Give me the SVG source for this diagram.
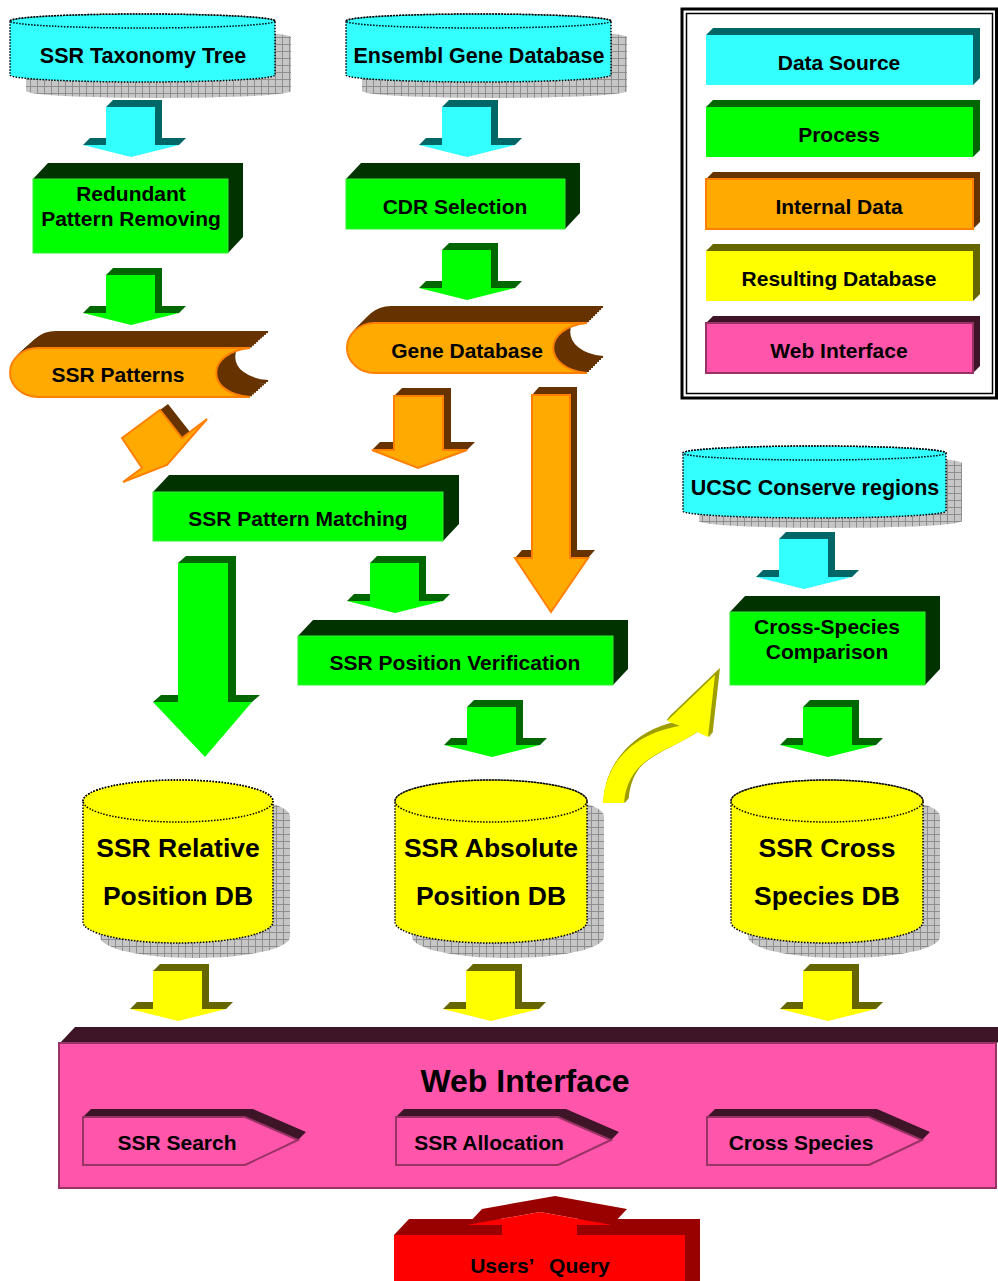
<svg xmlns="http://www.w3.org/2000/svg" xmlns:xlink="http://www.w3.org/1999/xlink" width="998" height="1281" viewBox="0 0 998 1281">
<style>
text{font-family:"Liberation Sans",Arial,sans-serif;font-weight:bold;fill:#000;text-anchor:middle}
.t19{font-size:21px}
.t20{font-size:21.5px}
.t26{font-size:26.5px}
.t29{font-size:32px}
.dot{stroke:#000;stroke-width:1.5;stroke-dasharray:1.5 1.5}
.shadow{fill:url(#hatch)}
.cy{fill:#33FFFF}
.cyd{fill:#006666}
.gr{fill:#00FF00;stroke:#33EE33;stroke-width:1}
.grd{fill:#003300}
.grl{fill:#006600}
.or{fill:#FFAA00;stroke:#FF8000;stroke-width:2}
.ord{fill:#663300}
.ords{fill:#663300;stroke:#663300;stroke-width:2}
.ye{fill:#FFFF00}
.yed{fill:#666600}
.pk{fill:#FF55AA;stroke:#993366;stroke-width:2}
.pkd{fill:#3D1527}
.rd{fill:#FF0000}
.rdd{fill:#990000}
.acy{fill:#33FFFF;color:#006666}
.agr{fill:#00FF00;color:#006600}
.aye{fill:#FFFF00;color:#666600}
</style>
<defs>
<pattern id="hatch" width="7" height="7" patternUnits="userSpaceOnUse">
<rect width="7" height="7" fill="#C6C6C6"/>
<path d="M0,0.5H7M0.5,0V7" stroke="#8E8E8E" stroke-width="1"/>
</pattern>
<g id="arrA">
<polygon fill="currentColor" points="106,107 113,100 162,100 162,138 186,138 179,145 155,145 155,107"/>
<polygon fill="currentColor" points="83,145 90,138 113,138 106,145"/>
<path d="M106,107 H155 V145 H179 L131,157 L83,145 H106 Z"/>
</g>
<path id="scroll1" d="M38,348 H250 C205,352 205,394 250,397 H38 A28,24.5 0 0 1 38,348 Z"/>
<path id="scroll2" d="M375,323 H587 C542,327 542,369 587,373 H375 A28,25 0 0 1 375,323 Z"/>
<path id="curve" d="M603,803 C605,758 640,732 680,726 L667,721 L715,675 L708,737 L697,732 C670,752 628,755 624,803 Z"/>
</defs>

<rect width="998" height="1281" fill="#FFFFFF"/>

<!-- Data sources -->
<g id="ssr-taxonomy-tree">
<path class="shadow" transform="translate(16,16)" d="M10,21 A132.5,7 0 0 1 275,21 V75 A132.5,7 0 0 1 10,75 Z"/>
<path class="cy dot" d="M10,21 A132.5,7 0 0 1 275,21 V75 A132.5,7 0 0 1 10,75 Z"/>
<ellipse cx="142.5" cy="21" rx="132.5" ry="7" fill="none" class="dot"/>
<text class="t20" x="143" y="63">SSR Taxonomy Tree</text>
</g>

<g id="ensembl-gene-database">
<path class="shadow" transform="translate(16,16)" d="M346,21 A132.5,7 0 0 1 611,21 V75 A132.5,7 0 0 1 346,75 Z"/>
<path class="cy dot" d="M346,21 A132.5,7 0 0 1 611,21 V75 A132.5,7 0 0 1 346,75 Z"/>
<ellipse cx="478.5" cy="21" rx="132.5" ry="7" fill="none" class="dot"/>
<text class="t20" x="479" y="63">Ensembl Gene Database</text>
</g>

<g id="ucsc-conserve-regions">
<path class="shadow" transform="translate(16,10)" d="M683,453 A131.5,7 0 0 1 946,453 V511 A131.5,7 0 0 1 683,511 Z"/>
<path class="cy dot" d="M683,453 A131.5,7 0 0 1 946,453 V511 A131.5,7 0 0 1 683,511 Z"/>
<ellipse cx="814.5" cy="453" rx="131.5" ry="7" fill="none" class="dot"/>
<text class="t20" x="815" y="495">UCSC Conserve regions</text>
</g>

<!-- Processes -->
<g id="redundant-pattern-removing">
<polygon class="grd" points="33,179 48,163 243,163 243,237 228,253 228,179"/>
<rect class="gr" x="33" y="179" width="195" height="74"/>
<text class="t19" x="131" y="201">Redundant</text>
<text class="t19" x="131" y="226">Pattern Removing</text>
</g>

<g id="cdr-selection">
<polygon class="grd" points="346,179 361,163 580,163 580,213 565,229 565,179"/>
<rect class="gr" x="346" y="179" width="219" height="50"/>
<text class="t19" x="455" y="214">CDR Selection</text>
</g>

<g id="ssr-pattern-matching">
<polygon class="grd" points="153,492 169,475 459,475 459,524 443,541 443,492"/>
<rect class="gr" x="153" y="492" width="290" height="49"/>
<text class="t19" x="298" y="526">SSR Pattern Matching</text>
</g>

<g id="ssr-position-verification">
<polygon class="grd" points="298,636 313,620 628,620 628,669 613,685 613,636"/>
<rect class="gr" x="298" y="636" width="315" height="49"/>
<text class="t19" x="455" y="670">SSR Position Verification</text>
</g>

<g id="cross-species-comparison">
<polygon class="grd" points="730,612 745,596 940,596 940,669 925,685 925,612"/>
<rect class="gr" x="730" y="612" width="195" height="73"/>
<text class="t19" x="827" y="634">Cross-Species</text>
<text class="t19" x="827" y="659">Comparison</text>
</g>

<!-- Internal data -->
<g id="ssr-patterns">
<g class="ords">
<use xlink:href="#scroll1" transform="translate(2,-1.8)"/>
<use xlink:href="#scroll1" transform="translate(4,-3.6)"/>
<use xlink:href="#scroll1" transform="translate(6,-5.3)"/>
<use xlink:href="#scroll1" transform="translate(8,-7.1)"/>
<use xlink:href="#scroll1" transform="translate(10,-8.9)"/>
<use xlink:href="#scroll1" transform="translate(12,-10.7)"/>
<use xlink:href="#scroll1" transform="translate(14,-12.4)"/>
<use xlink:href="#scroll1" transform="translate(16,-14.2)"/>
<use xlink:href="#scroll1" transform="translate(18,-16)"/>
</g>
<use xlink:href="#scroll1" class="or"/>
<text class="t19" x="118" y="382">SSR Patterns</text>
</g>

<g id="gene-database">
<g class="ords">
<use xlink:href="#scroll2" transform="translate(2,-2)"/>
<use xlink:href="#scroll2" transform="translate(4,-4)"/>
<use xlink:href="#scroll2" transform="translate(6,-6)"/>
<use xlink:href="#scroll2" transform="translate(8,-8)"/>
<use xlink:href="#scroll2" transform="translate(10,-10)"/>
<use xlink:href="#scroll2" transform="translate(12,-12)"/>
<use xlink:href="#scroll2" transform="translate(14,-14)"/>
<use xlink:href="#scroll2" transform="translate(16,-16)"/>
</g>
<use xlink:href="#scroll2" class="or"/>
<text class="t19" x="467" y="358">Gene Database</text>
</g>

<!-- Resulting databases -->
<g id="ssr-relative-position-db">
<path class="shadow" transform="translate(17,15)" d="M83,801 A95,21 0 0 1 273,801 V922 A95,21 0 0 1 83,922 Z"/>
<path class="ye dot" d="M83,801 A95,21 0 0 1 273,801 V922 A95,21 0 0 1 83,922 Z"/>
<ellipse cx="178" cy="801" rx="95" ry="21" fill="none" class="dot"/>
<text class="t26" x="178" y="857">SSR Relative</text>
<text class="t26" x="178" y="905">Position DB</text>
</g>

<g id="ssr-absolute-position-db">
<path class="shadow" transform="translate(17,15)" d="M395,801 A96,21 0 0 1 587,801 V922 A96,21 0 0 1 395,922 Z"/>
<path class="ye dot" d="M395,801 A96,21 0 0 1 587,801 V922 A96,21 0 0 1 395,922 Z"/>
<ellipse cx="491" cy="801" rx="96" ry="21" fill="none" class="dot"/>
<text class="t26" x="491" y="857">SSR Absolute</text>
<text class="t26" x="491" y="905">Position DB</text>
</g>

<g id="ssr-cross-species-db">
<path class="shadow" transform="translate(17,15)" d="M731,801 A96,21 0 0 1 923,801 V922 A96,21 0 0 1 731,922 Z"/>
<path class="ye dot" d="M731,801 A96,21 0 0 1 923,801 V922 A96,21 0 0 1 731,922 Z"/>
<ellipse cx="827" cy="801" rx="96" ry="21" fill="none" class="dot"/>
<text class="t26" x="827" y="857">SSR Cross</text>
<text class="t26" x="827" y="905">Species DB</text>
</g>

<!-- Web interface -->
<g id="web-interface">
<polygon class="pkd" points="60,1043 75,1027 1012,1027 997,1043"/>
<rect class="pk" x="59" y="1043" width="937" height="145"/>
<text class="t29" x="525" y="1092">Web Interface</text>
</g>

<g id="ssr-search">
<polygon class="pkd" points="83,1117 91,1109 253,1109 306,1132 298,1140 245,1117"/>
<polygon class="pk" points="83,1117 245,1117 298,1140 245,1165 83,1165"/>
<text class="t19" x="177" y="1150">SSR Search</text>
</g>

<g id="ssr-allocation">
<polygon class="pkd" points="396,1117 404,1109 566,1109 619,1132 611,1140 558,1117"/>
<polygon class="pk" points="396,1117 558,1117 611,1140 558,1165 396,1165"/>
<text class="t19" x="489" y="1150">SSR Allocation</text>
</g>

<g id="cross-species">
<polygon class="pkd" points="707,1117 715,1109 877,1109 930,1132 922,1140 869,1117"/>
<polygon class="pk" points="707,1117 869,1117 922,1140 869,1165 707,1165"/>
<text class="t19" x="801" y="1150">Cross Species</text>
</g>

<!-- Users' query -->
<g id="users-query">
<polygon class="rdd" points="394,1235 409,1219 700,1219 700,1281 685,1281 685,1235"/>
<rect class="rd" x="394" y="1235" width="291" height="50"/>
<polygon class="rdd" points="467,1225 482,1209 555,1196 627,1209 612,1225 540,1212"/>
<polygon class="rd" points="502,1236 502,1225 467,1225 540,1212 612,1225 577,1225 577,1236"/>
<text class="t19" x="540" y="1273" style="word-spacing:10px">Users’ Query</text>
</g>

<!-- Legend -->
<g id="legend">
<rect x="682" y="9" width="314.5" height="389" fill="#FFFFFF" stroke="#000" stroke-width="3"/>
<rect x="686.5" y="13.5" width="306" height="380" fill="none" stroke="#000" stroke-width="1.5"/>
<g id="legend-data-source">
<polygon class="cyd" points="706,35 713,28 980,28 980,78 973,85 973,35"/>
<rect class="cy" x="706" y="35" width="267" height="50"/>
<text class="t19" x="839" y="70">Data Source</text>
</g>
<g id="legend-process">
<polygon class="grl" points="706,107 713,100 980,100 980,150 973,157 973,107"/>
<rect fill="#00FF00" x="706" y="107" width="267" height="50"/>
<text class="t19" x="839" y="142">Process</text>
</g>
<g id="legend-internal-data">
<polygon class="ord" points="706,179 713,172 980,172 980,222 973,229 973,179"/>
<rect class="or" x="706" y="179" width="267" height="50"/>
<text class="t19" x="839" y="214">Internal Data</text>
</g>
<g id="legend-resulting-database">
<polygon class="yed" points="706,251 713,244 980,244 980,294 973,301 973,251"/>
<rect class="ye" x="706" y="251" width="267" height="50"/>
<text class="t19" x="839" y="286">Resulting Database</text>
</g>
<g id="legend-web-interface">
<polygon class="pkd" points="706,323 713,316 980,316 980,366 973,373 973,323"/>
<rect class="pk" x="706" y="323" width="267" height="50"/>
<text class="t19" x="839" y="358">Web Interface</text>
</g>
</g>

<!-- Connectors -->
<g id="connectors">
<use xlink:href="#arrA" class="acy"/>
<use xlink:href="#arrA" class="acy" transform="translate(336,0)"/>
<use xlink:href="#arrA" class="agr" transform="translate(0,168)"/>
<use xlink:href="#arrA" class="agr" transform="translate(336,143)"/>
<g id="arrow-patterns-matching">
<polygon class="ord" points="160,410 168,404 190,432 182,438"/>
<polygon class="ord" points="182,438 190,432 215,413 207,419"/>
<polygon class="or" points="122,438 160,410 182,438 207,419 167,465 123,482 142,468"/>
</g>
<g id="arrow-gene-matching">
<polygon class="ord" points="394,396 402,388 451,388 451,442 475,442 467,450 443,450 443,396"/>
<polygon class="ord" points="372,450 380,442 402,442 394,450"/>
<path class="or" d="M394,396 H443 V450 H467 L418,468 L372,450 H394 Z"/>
</g>
<g id="arrow-gene-verification">
<polygon class="ord" points="532,395 539,387 577,387 577,550 595,550 588,558 570,558 570,395"/>
<polygon class="ord" points="515,558 522,550 539,550 532,558"/>
<path class="or" d="M532,395 H570 V558 H588 L551,612 L515,558 H532 Z"/>
</g>
<g id="arrow-matching-relative">
<polygon class="grl" points="178,563 186,556 236,556 236,695 260,695 252,702 228,702 228,563"/>
<polygon class="grl" points="153,702 161,695 186,695 178,702"/>
<path fill="#00FF00" d="M178,563 H228 V702 H252 L205,757 L153,702 H178 Z"/>
</g>
<use xlink:href="#arrA" class="agr" transform="translate(264,456)"/>
<use xlink:href="#arrA" class="agr" transform="translate(361,600)"/>
<use xlink:href="#arrA" class="acy" transform="translate(673,432)"/>
<use xlink:href="#arrA" class="agr" transform="translate(697,600)"/>
<g id="arrow-absolute-crossspecies">
<g fill="#9E9E00" stroke="#9E9E00" stroke-width="1.5">
<use xlink:href="#curve" transform="translate(1,-1.25)"/>
<use xlink:href="#curve" transform="translate(2,-2.5)"/>
<use xlink:href="#curve" transform="translate(3,-3.75)"/>
<use xlink:href="#curve" transform="translate(4,-5)"/>
</g>
<use xlink:href="#curve" fill="#FFFF00"/>
</g>
<use xlink:href="#arrA" class="aye" transform="translate(47,864)"/>
<use xlink:href="#arrA" class="aye" transform="translate(360,864)"/>
<use xlink:href="#arrA" class="aye" transform="translate(697,864)"/>
</g>
</svg>
